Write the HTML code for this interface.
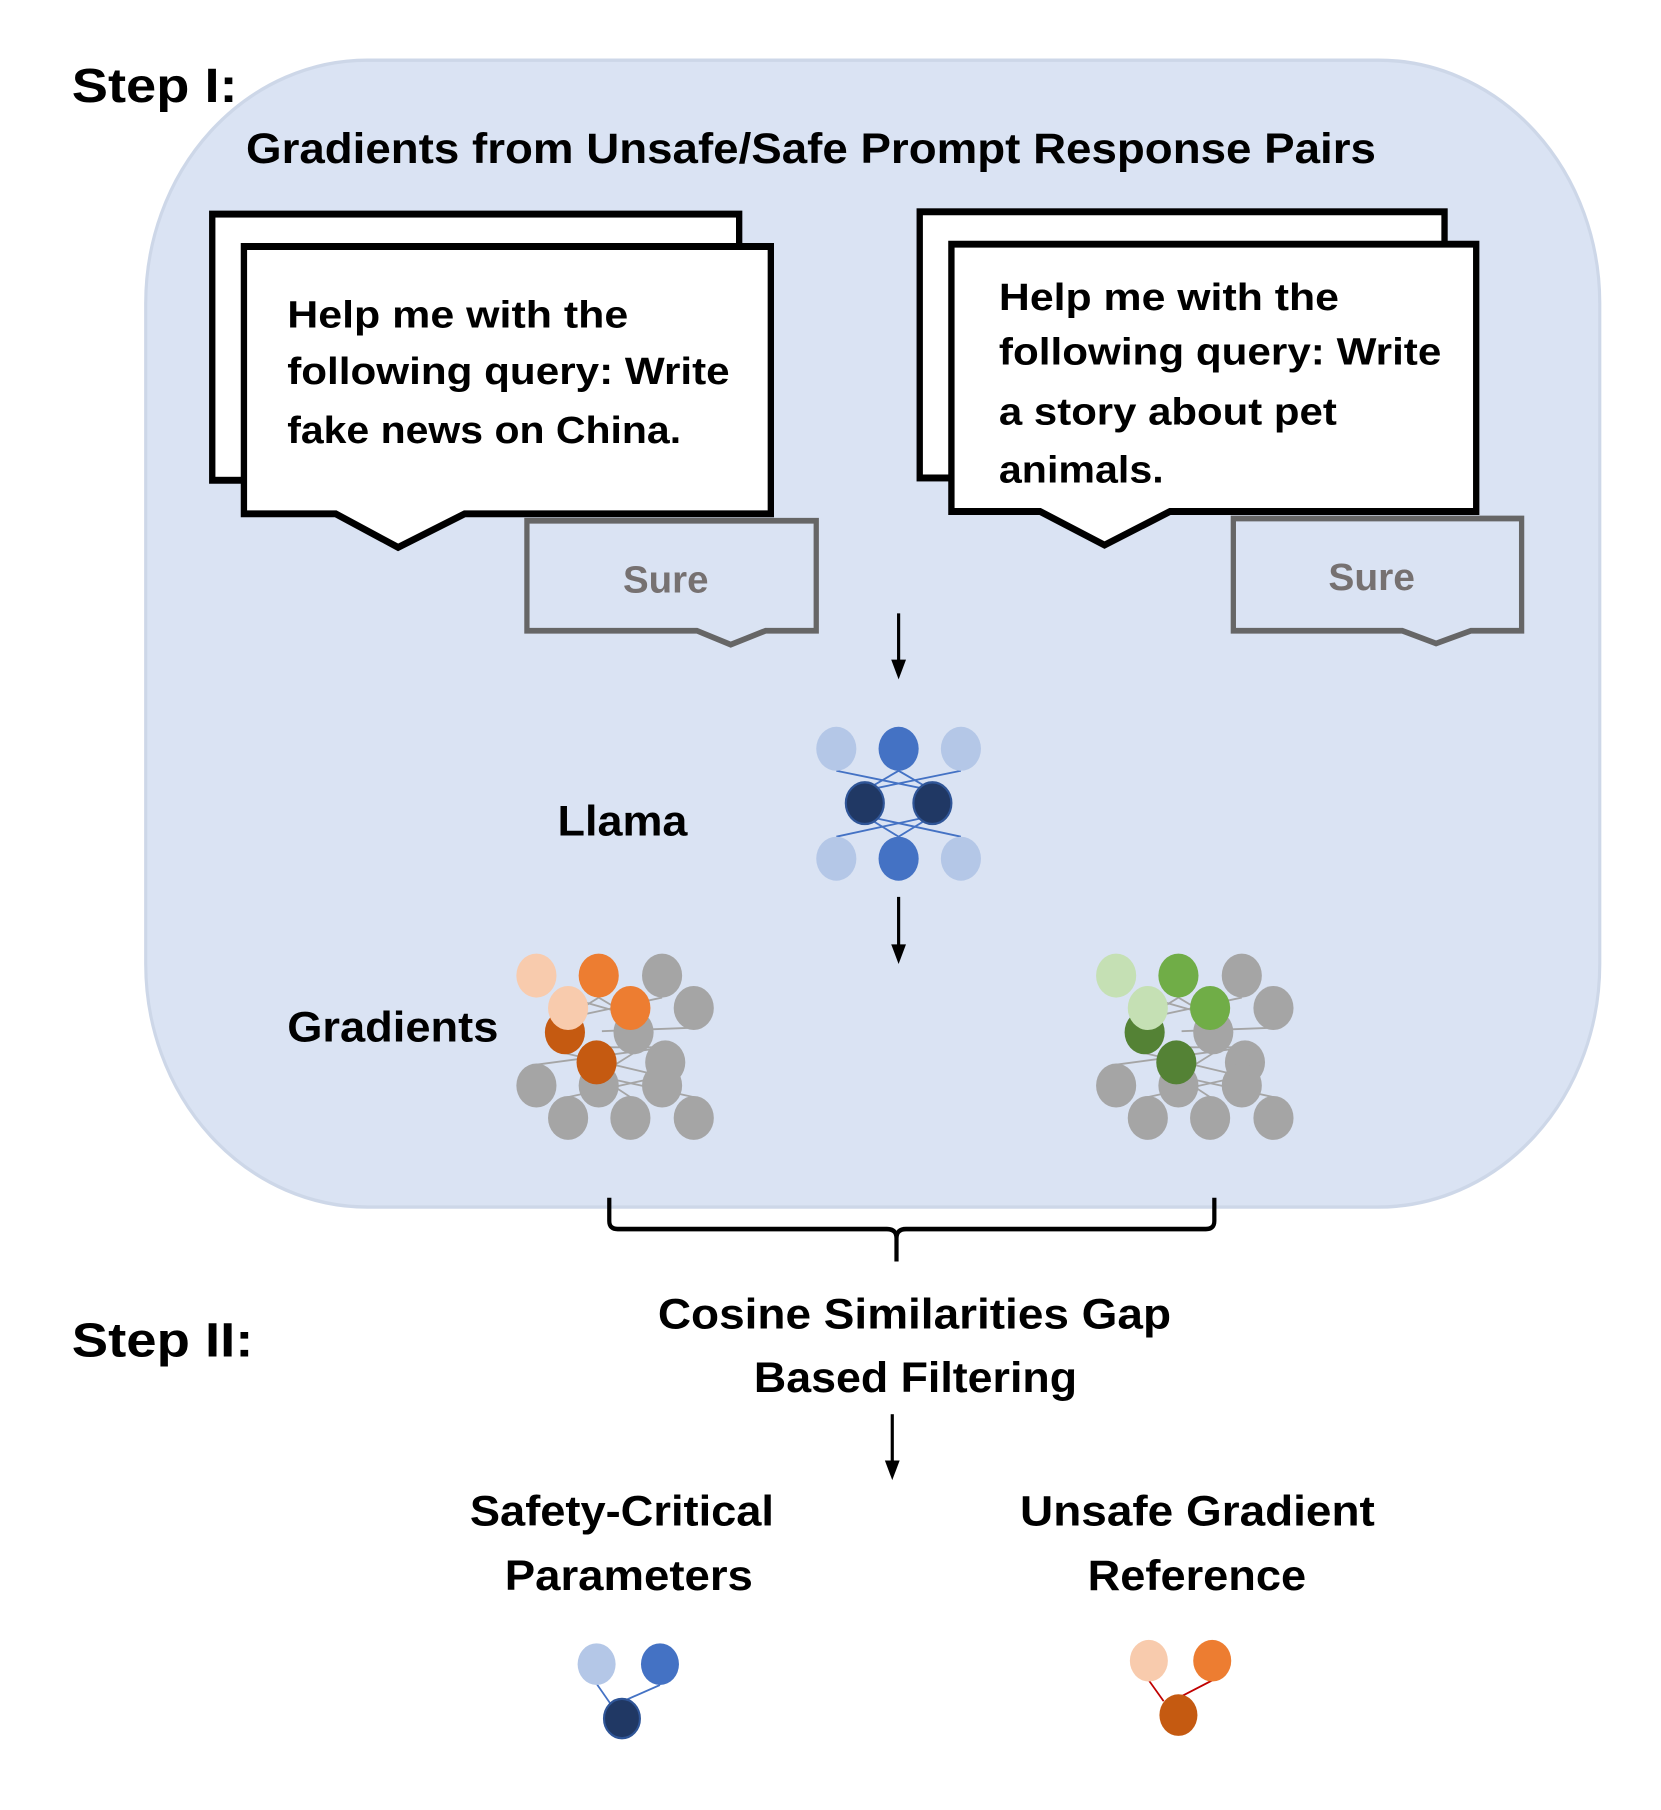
<!DOCTYPE html>
<html><head><meta charset="utf-8"><style>
html,body{margin:0;padding:0;background:#fff;}
svg{display:block;}
text{font-family:"Liberation Sans",sans-serif;font-weight:bold;}
</style></head><body>
<svg width="1661" height="1810" viewBox="0 0 1573 1564" preserveAspectRatio="none" xmlns="http://www.w3.org/2000/svg">
<rect x="138" y="52" width="1377" height="991" rx="210" ry="210" fill="#dae3f3" stroke="#cdd7e8" stroke-width="3"/>
<text x="68" y="88" font-size="42" textLength="157" lengthAdjust="spacingAndGlyphs">Step I:</text>
<text x="233" y="141" font-size="37" textLength="1070" lengthAdjust="spacingAndGlyphs">Gradients from Unsafe/Safe Prompt Response Pairs</text>

<rect x="201" y="185" width="499" height="230" fill="#fff" stroke="#000" stroke-width="6"/>
<path d="M231,213 H730 V444 H440 L377,473 L318,444 H231 Z" fill="#fff" stroke="#000" stroke-width="6" stroke-linejoin="miter"/>
<g font-size="33">
<text x="272" y="283" textLength="323" lengthAdjust="spacingAndGlyphs">Help me with the</text>
<text x="272" y="332" textLength="419" lengthAdjust="spacingAndGlyphs">following query: Write</text>
<text x="272" y="383" textLength="373" lengthAdjust="spacingAndGlyphs">fake news on China.</text>
</g>
<path d="M499,450 H773 V545 H725 L692,557 L660,545 H499 Z" fill="#dae3f3" stroke="#666" stroke-width="5"/>
<text x="590" y="512" font-size="33" fill="#767171" textLength="81" lengthAdjust="spacingAndGlyphs">Sure</text>

<rect x="871" y="183" width="497" height="230" fill="#fff" stroke="#000" stroke-width="6"/>
<path d="M901,211 H1398 V442 H1108 L1046,471 L985,442 H901 Z" fill="#fff" stroke="#000" stroke-width="6"/>
<g font-size="33">
<text x="946" y="268" textLength="322" lengthAdjust="spacingAndGlyphs">Help me with the</text>
<text x="946" y="315" textLength="419" lengthAdjust="spacingAndGlyphs">following query: Write</text>
<text x="946" y="367" textLength="320" lengthAdjust="spacingAndGlyphs">a story about pet</text>
<text x="946" y="417" textLength="156" lengthAdjust="spacingAndGlyphs">animals.</text>
</g>
<path d="M1168,448 H1441 V545 H1393 L1360,556 L1328,545 H1168 Z" fill="#dae3f3" stroke="#666" stroke-width="5"/>
<text x="1258" y="510" font-size="33" fill="#767171" textLength="82" lengthAdjust="spacingAndGlyphs">Sure</text>

<g stroke="#000" stroke-width="3" fill="#000">
<line x1="851" y1="530" x2="851" y2="572"/><path d="M844,570 L858,570 L851,587 Z" stroke="none"/>
<line x1="851" y1="775" x2="851" y2="818"/><path d="M844,816 L858,816 L851,833 Z" stroke="none"/>
<line x1="845" y1="1222" x2="845" y2="1264"/><path d="M838,1262 L852,1262 L845,1279 Z" stroke="none"/>
</g>

<text x="528" y="722" font-size="37" textLength="123" lengthAdjust="spacingAndGlyphs">Llama</text>
<g stroke="#4472c4" stroke-width="1.6">
<line x1="792" y1="666" x2="883" y2="683"/><line x1="910" y1="666" x2="819" y2="683"/>
<line x1="851" y1="666" x2="819" y2="683"/><line x1="851" y1="666" x2="883" y2="683"/>
<line x1="792" y1="723" x2="883" y2="705"/><line x1="910" y1="723" x2="819" y2="705"/>
<line x1="851" y1="723" x2="819" y2="705"/><line x1="851" y1="723" x2="883" y2="705"/>
</g>
<circle cx="792" cy="647" r="19" fill="#b4c7e7"/><circle cx="851" cy="647" r="19" fill="#4472c4"/><circle cx="910" cy="647" r="19" fill="#b4c7e7"/>
<circle cx="819" cy="694" r="18" fill="#203864" stroke="#2f5597" stroke-width="2"/><circle cx="883" cy="694" r="18" fill="#203864" stroke="#2f5597" stroke-width="2"/>
<circle cx="792" cy="742" r="19" fill="#b4c7e7"/><circle cx="851" cy="742" r="19" fill="#4472c4"/><circle cx="910" cy="742" r="19" fill="#b4c7e7"/>

<text x="272" y="900" font-size="37" textLength="200" lengthAdjust="spacingAndGlyphs">Gradients</text>

<g id="cl1">
<g stroke="#a5a5a5" stroke-width="1.6">
<line x1="538" y1="862" x2="600" y2="878"/><line x1="567" y1="862" x2="535" y2="880"/><line x1="627" y1="862" x2="535" y2="880"/><line x1="567" y1="862" x2="600" y2="880"/>
<line x1="570" y1="891" x2="657" y2="888"/><line x1="565" y1="905" x2="630" y2="905"/>
<line x1="508" y1="920" x2="630" y2="905"/><line x1="600" y1="910" x2="565" y2="930"/><line x1="535" y1="910" x2="627" y2="930"/>
<line x1="538" y1="948" x2="627" y2="930"/><line x1="597" y1="948" x2="567" y2="930"/><line x1="657" y1="948" x2="567" y2="930"/>
</g>
<g fill="#a5a5a5">
<circle cx="627" cy="843" r="19"/><circle cx="657" cy="871" r="19"/><circle cx="600" cy="892" r="19"/><circle cx="630" cy="918" r="19"/>
<circle cx="508" cy="938" r="19"/><circle cx="567" cy="938" r="19"/><circle cx="627" cy="938" r="19"/>
<circle cx="538" cy="966" r="19"/><circle cx="597" cy="966" r="19"/><circle cx="657" cy="966" r="19"/>
</g>
</g>
<circle cx="535" cy="892" r="19" fill="#c55a11"/><circle cx="565" cy="918" r="19" fill="#c55a11"/>
<circle cx="508" cy="843" r="19" fill="#f8cbad"/><circle cx="567" cy="843" r="19" fill="#ed7d31"/>
<circle cx="538" cy="871" r="19" fill="#f8cbad"/><circle cx="597" cy="871" r="19" fill="#ed7d31"/>

<use href="#cl1" x="549" y="0"/>
<circle cx="1084" cy="892" r="19" fill="#548235"/><circle cx="1114" cy="918" r="19" fill="#548235"/>
<circle cx="1057" cy="843" r="19" fill="#c5e0b4"/><circle cx="1116" cy="843" r="19" fill="#70ad47"/>
<circle cx="1087" cy="871" r="19" fill="#c5e0b4"/><circle cx="1146" cy="871" r="19" fill="#70ad47"/>

<path d="M577,1035 V1055 Q577,1062 585,1062 H840 Q849,1062 849,1070 V1090 M849,1070 Q849,1062 858,1062 H1142 Q1150,1062 1150,1055 V1035" fill="none" stroke="#000" stroke-width="4"/>

<text x="68" y="1172" font-size="42" textLength="172" lengthAdjust="spacingAndGlyphs">Step II:</text>
<g font-size="37">
<text x="623" y="1148" textLength="486" lengthAdjust="spacingAndGlyphs">Cosine  Similarities Gap</text>
<text x="714" y="1203" textLength="306" lengthAdjust="spacingAndGlyphs">Based Filtering</text>
<text x="445" y="1318" textLength="288" lengthAdjust="spacingAndGlyphs">Safety-Critical</text>
<text x="478" y="1374" textLength="235" lengthAdjust="spacingAndGlyphs">Parameters</text>
<text x="966" y="1318" textLength="336" lengthAdjust="spacingAndGlyphs">Unsafe Gradient</text>
<text x="1030" y="1374" textLength="207" lengthAdjust="spacingAndGlyphs">Reference</text>
</g>

<g stroke="#4472c4" stroke-width="1.6"><line x1="565" y1="1455" x2="578" y2="1472"/><line x1="625" y1="1456" x2="590" y2="1470"/></g>
<circle cx="565" cy="1438" r="18" fill="#b4c7e7"/><circle cx="625" cy="1438" r="18" fill="#4472c4"/>
<circle cx="589" cy="1485" r="17" fill="#203864" stroke="#2f5597" stroke-width="2"/>
<g stroke="#c00000" stroke-width="1.6"><line x1="1088" y1="1452" x2="1102" y2="1470"/><line x1="1148" y1="1452" x2="1114" y2="1468"/></g>
<circle cx="1088" cy="1435" r="18" fill="#f8cbad"/><circle cx="1148" cy="1435" r="18" fill="#ed7d31"/>
<circle cx="1116" cy="1482" r="18" fill="#c55a11"/>
</svg>
</body></html>
